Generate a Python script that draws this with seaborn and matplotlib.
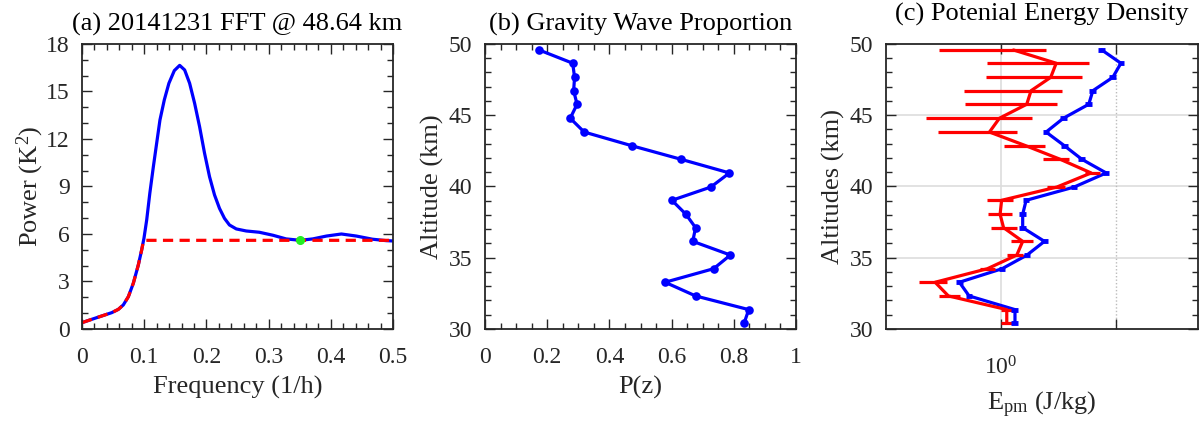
import numpy as np
import pandas as pd
import matplotlib
matplotlib.use("Agg")
import matplotlib.pyplot as plt
import seaborn as sns
from matplotlib.ticker import MultipleLocator, NullLocator, FixedLocator, FuncFormatter

# ---------------- data ----------------
# (a) FFT spectrum
freq = [0.0, 0.0156, 0.0316, 0.0477, 0.0584, 0.0664, 0.0745, 0.0825, 0.0905, 0.0959,
        0.0996, 0.104, 0.109, 0.1147, 0.12, 0.1253, 0.1323, 0.1397, 0.1484, 0.157,
        0.165, 0.173, 0.181, 0.189, 0.197, 0.205, 0.213, 0.221, 0.229, 0.237,
        0.248, 0.264, 0.285, 0.307, 0.328, 0.351, 0.371, 0.393, 0.417, 0.441,
        0.467, 0.489, 0.5]
power = [0.40, 0.61, 0.82, 1.03, 1.24, 1.52, 2.04, 2.89, 4.04, 4.99,
         5.73, 6.89, 8.57, 10.25, 11.73, 13.2, 14.47, 15.52, 16.32, 16.65,
         16.36, 15.52, 14.26, 12.78, 11.1, 9.62, 8.47, 7.62, 6.99, 6.57,
         6.32, 6.19, 6.11, 5.92, 5.69, 5.60, 5.69, 5.87, 6.0, 5.87,
         5.67, 5.58, 5.56]
bg_freq = [0.0, 0.0156, 0.0316, 0.0477, 0.0584, 0.0664, 0.0745, 0.0825, 0.0905, 0.0959, 0.0990, 0.5]
bg_power = [0.40, 0.61, 0.82, 1.03, 1.24, 1.52, 2.04, 2.89, 4.04, 4.99, 5.60, 5.60]
peak_freq = [0.351]
peak_power = [5.60]

# (b) gravity wave proportion (top to bottom)
altitude = [49.58, 48.65, 47.66, 46.72, 45.77, 44.79, 43.82, 42.86, 41.91, 40.95,
            39.96, 39.03, 38.05, 37.11, 36.15, 35.19, 34.23, 33.28, 32.32, 31.36, 30.40]
prop = [0.174, 0.282, 0.288, 0.285, 0.296, 0.274, 0.319, 0.472, 0.630, 0.786,
        0.726, 0.601, 0.646, 0.677, 0.668, 0.789, 0.735, 0.579, 0.677, 0.848, 0.833]

# (c) potential energy density (J/kg)
ep_blue = [7.5, 11.0, 9.35, 6.27, 5.78, 3.48, 2.46, 3.55, 5.03, 8.19,
           4.31, 1.65, 1.54, 1.54, 2.38, 1.68, 1.02, 0.434, 0.527, 1.32, 1.32]
ep_blue_lo = [7.0, 10.3, 8.7, 5.85, 5.4, 3.25, 2.3, 3.3, 4.7, 7.65,
              4.03, 1.54, 1.44, 1.44, 2.22, 1.57, 0.95, 0.405, 0.492, 1.23, 1.23]
ep_blue_hi = [8.0, 11.8, 10.0, 6.7, 6.2, 3.72, 2.63, 3.8, 5.38, 8.75,
              4.6, 1.76, 1.65, 1.65, 2.55, 1.8, 1.09, 0.465, 0.564, 1.41, 1.41]
ep_red = [1.28, 3.01, 2.70, 1.82, 1.67, 0.967, 0.792, 1.64, 3.26, 6.06,
          3.05, 1.01, 0.98, 1.05, 1.54, 1.37, 0.76, 0.267, 0.348, 1.12, 1.12]
ep_red_lo = [0.291, 0.76, 0.736, 0.473, 0.49, 0.221, 0.285, 1.05, 2.32, 5.37,
             2.5, 0.75, 0.776, 0.82, 1.22, 1.12, 0.65, 0.195, 0.291, 1.0, 0.99]
ep_red_hi = [2.45, 5.78, 5.03, 3.37, 3.09, 1.85, 1.37, 2.41, 3.90, 7.26,
             3.6, 1.28, 1.24, 1.37, 1.88, 1.56, 0.89, 0.337, 0.44, 1.26, 1.28]

# ---------------- style ----------------
sns.set_theme(style="ticks")
plt.rcParams['font.family'] = ['Liberation Serif', 'DejaVu Serif']
plt.rcParams['mathtext.fontset'] = 'custom'
plt.rcParams['mathtext.rm'] = 'Liberation Serif'
plt.rcParams['mathtext.it'] = 'Liberation Serif:italic'
TXT = '#262626'
FS_TICK = 17
FS_LAB = 19
LW = 2.3

fig = plt.figure(figsize=(11.99, 4.25), dpi=100)
ax1 = fig.add_axes([0.0684, 0.2259, 0.2594, 0.6706])
ax2 = fig.add_axes([0.4045, 0.2259, 0.2594, 0.6706])
ax3 = fig.add_axes([0.7390, 0.2259, 0.2598, 0.6706])

def style_axes(ax, xpad=13):
    for s in ax.spines.values():
        s.set_color(TXT)
        s.set_linewidth(1.3)
    ax.tick_params(which='both', direction='in', top=True, right=True,
                   colors=TXT, labelcolor=TXT, labelsize=FS_TICK, width=1.0)
    ax.tick_params(which='major', length=7)
    ax.tick_params(which='minor', length=4)
    ax.tick_params(axis='x', which='major', pad=xpad)
    ax.tick_params(axis='y', which='major', pad=9)

fmt = FuncFormatter(lambda v, p: '%g' % round(v, 2))

# (a)
df_a = pd.DataFrame({'f': freq, 'p': power})
sns.lineplot(data=df_a, x='f', y='p', ax=ax1, color='#0000ff', lw=LW, sort=False, estimator=None)
ax1.plot(bg_freq, bg_power, color='#ff0000', lw=LW, ls=(0, (3.2, 2.0)))
ax1.plot(peak_freq, peak_power, 'o', color='#22ee22', ms=5.5, zorder=5)
ax1.set_xlim(0, 0.5)
ax1.set_ylim(0, 18)
ax1.xaxis.set_major_locator(MultipleLocator(0.1))
ax1.xaxis.set_minor_locator(MultipleLocator(0.02))
ax1.yaxis.set_major_locator(MultipleLocator(3))
ax1.yaxis.set_minor_locator(MultipleLocator(1))
ax1.xaxis.set_major_formatter(fmt)
ax1.set_xlabel('Frequency (1/h)', fontsize=FS_LAB, color=TXT, labelpad=6)
ax1.set_ylabel(r'Power (K$\mathregular{^2}$)', fontsize=FS_LAB, color=TXT, labelpad=0)
ax1.set_title('(a) 20141231 FFT @ 48.64 km', fontsize=FS_LAB, color='black', pad=10)
style_axes(ax1)

# (b)
df_b = pd.DataFrame({'alt': altitude, 'p': prop})
sns.lineplot(data=df_b, x='p', y='alt', ax=ax2, color='#0000ff', lw=LW, sort=False,
             estimator=None, marker='o', markersize=6.2, markeredgewidth=0)
ax2.set_xlim(0, 1)
ax2.set_ylim(30, 50)
ax2.xaxis.set_major_locator(MultipleLocator(0.2))
ax2.xaxis.set_minor_locator(MultipleLocator(0.05))
ax2.yaxis.set_major_locator(MultipleLocator(5))
ax2.yaxis.set_minor_locator(MultipleLocator(1))
ax2.xaxis.set_major_formatter(fmt)
ax2.set_xlabel('P(z)', fontsize=FS_LAB, color=TXT, labelpad=6)
ax2.set_ylabel('Altitude (km)', fontsize=FS_LAB, color=TXT, labelpad=3.5)
ax2.set_title('(b) Gravity Wave Proportion', fontsize=FS_LAB, color='black', pad=10)
style_axes(ax2)

# (c)
ax3.set_xscale('log')
ax3.set_xlim(0.1, 51)
ax3.set_ylim(30, 50)
for yv in [35, 40, 45]:
    ax3.axhline(yv, color='#dddddd', lw=1.2, zorder=0)
ax3.axvline(1, color='#dddddd', lw=1.2, zorder=0)
ax3.axvline(10, color='#bbbbbb', lw=1.0, ls=(0, (1, 1.5)), zorder=0)

b_err = [np.array(ep_blue) - np.array(ep_blue_lo), np.array(ep_blue_hi) - np.array(ep_blue)]
r_err = [np.array(ep_red) - np.array(ep_red_lo), np.array(ep_red_hi) - np.array(ep_red)]
ax3.errorbar(ep_red, altitude, xerr=r_err, fmt='none', ecolor='#ff0000', elinewidth=LW,
             capsize=0, zorder=3)
ax3.errorbar(ep_blue, altitude, xerr=b_err, fmt='none', ecolor='#0000ff', elinewidth=3.5,
             capsize=0, zorder=4)
df_c = pd.DataFrame({'alt': altitude, 'blue': ep_blue, 'red': ep_red})
sns.lineplot(data=df_c, x='blue', y='alt', ax=ax3, color='#0000ff', lw=LW, sort=False, estimator=None)
sns.lineplot(data=df_c, x='red', y='alt', ax=ax3, color='#ff0000', lw=LW, sort=False, estimator=None)
ax3.xaxis.set_major_locator(FixedLocator([1, 10]))
ax3.xaxis.set_minor_locator(NullLocator())
ax3.set_xticklabels([r'$\mathregular{10^0}$', ''])
ax3.yaxis.set_major_locator(MultipleLocator(5))
ax3.yaxis.set_minor_locator(MultipleLocator(1))
ax3.set_xlabel(r'$\mathregular{E_{pm}}$ (J/kg)', fontsize=FS_LAB, color=TXT, labelpad=7)
ax3.set_ylabel('Altitudes (km)', fontsize=FS_LAB, color=TXT, labelpad=3.5)
ax3.set_title('(c) Potenial Energy Density', fontsize=FS_LAB, color='black', pad=17)
style_axes(ax3, xpad=20)

fig.savefig('out.png', dpi=100)
